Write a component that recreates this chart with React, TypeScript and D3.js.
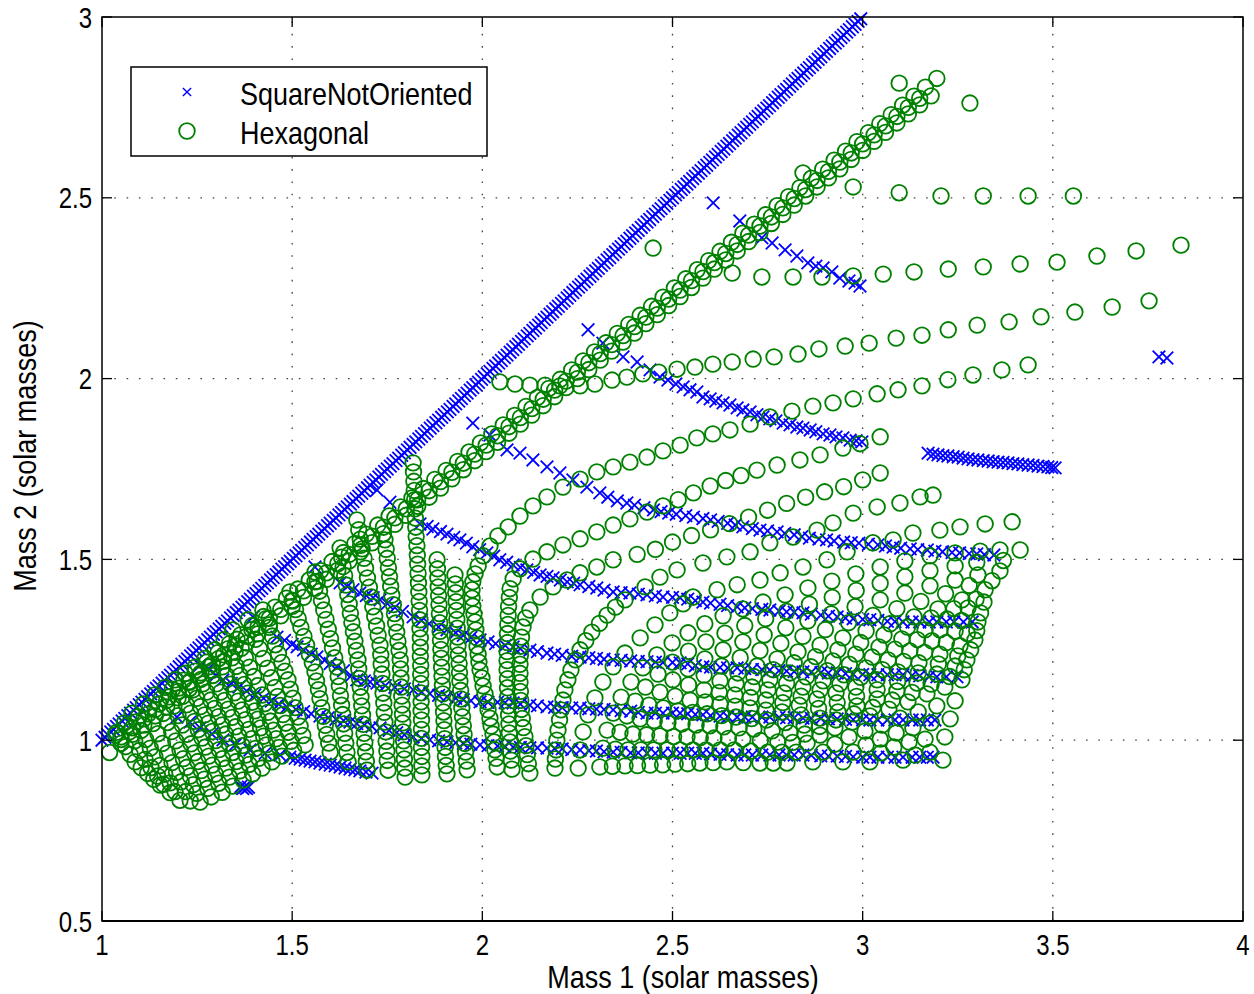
import React from 'react';
import * as d3 from 'd3';

// ---------- axes ----------
const xTicks = [1, 1.5, 2, 2.5, 3, 3.5, 4];
const yTicks = [0.5, 1, 1.5, 2, 2.5, 3];
const xLabel = 'Mass 1 (solar masses)';
const yLabel = 'Mass 2 (solar masses)';
const seriesNames = ['SquareNotOriented', 'Hexagonal'];

// ---------- SquareNotOriented (blue x) ----------
// equal-mass line: m1 = m2
const sqDiagonal = [
  1.000, 1.015, 1.030, 1.045, 1.060, 1.075, 1.090, 1.105, 1.120, 1.135,
  1.150, 1.165, 1.180, 1.195, 1.210, 1.225, 1.240, 1.255, 1.270, 1.285,
  1.300, 1.315, 1.330, 1.345, 1.360, 1.375, 1.390, 1.405, 1.420, 1.435,
  1.450, 1.465, 1.480, 1.495, 1.510, 1.525, 1.540, 1.555, 1.570, 1.585,
  1.600, 1.615, 1.630, 1.645, 1.660, 1.675, 1.690, 1.705, 1.720, 1.735,
  1.750, 1.765, 1.780, 1.795, 1.810, 1.825, 1.840, 1.855, 1.870, 1.885,
  1.900, 1.915, 1.930, 1.945, 1.960, 1.975, 1.990, 2.005, 2.020, 2.035,
  2.050, 2.065, 2.080, 2.095, 2.110, 2.125, 2.140, 2.155, 2.170, 2.185,
  2.200, 2.215, 2.230, 2.245, 2.260, 2.275, 2.290, 2.305, 2.320, 2.335,
  2.350, 2.365, 2.380, 2.395, 2.410, 2.425, 2.440, 2.455, 2.470, 2.485,
  2.500, 2.515, 2.530, 2.545, 2.560, 2.575, 2.590, 2.605, 2.620, 2.635,
  2.650, 2.665, 2.680, 2.695, 2.710, 2.725, 2.740, 2.755, 2.770, 2.785,
  2.800, 2.815, 2.830, 2.845, 2.860, 2.875, 2.890, 2.905, 2.920, 2.935,
  2.950, 2.965, 2.980, 2.995,
];
const sqDiagonalB = [
  1.008, 1.023, 1.038, 1.053, 1.068, 1.083, 1.098, 1.113, 1.128, 1.143,
  1.158, 1.173, 1.188, 1.203, 1.218, 1.233, 1.248, 1.263, 1.278, 1.293,
  1.308, 1.323, 1.338, 1.353, 1.368, 1.383, 1.398, 1.413, 1.428, 1.443,
  1.458, 1.473, 1.488, 1.503, 1.518, 1.533, 1.548, 1.563, 1.578, 1.593,
  1.608, 1.623, 1.638, 1.653, 1.668, 1.683, 1.698, 1.713, 1.728, 1.743,
  1.758, 1.773, 1.788, 1.803, 1.818, 1.833, 1.848, 1.863, 1.878, 1.893,
  1.908, 1.923, 1.938, 1.953, 1.968, 1.983, 1.998, 2.013, 2.028, 2.043,
  2.058, 2.073, 2.088, 2.103, 2.118, 2.133, 2.148, 2.163, 2.178, 2.193,
  2.208, 2.223, 2.238, 2.253, 2.268, 2.283, 2.298, 2.313, 2.328, 2.343,
  2.358, 2.373, 2.388, 2.403, 2.418, 2.433, 2.448, 2.463, 2.478, 2.493,
  2.508, 2.523, 2.538, 2.553, 2.568, 2.583, 2.598, 2.613, 2.628, 2.643,
  2.658, 2.673, 2.688, 2.703, 2.718, 2.733, 2.748, 2.763, 2.778, 2.793,
  2.808, 2.823, 2.838, 2.853, 2.868, 2.883, 2.898, 2.913, 2.928, 2.943,
  2.958, 2.973, 2.988,
];

const sqCurve1 = [[2.607,2.486],[2.677,2.436],[2.735,2.389],[2.762,2.375],[2.796,2.356],[2.827,2.339],[2.856,2.320],[2.877,2.311],[2.896,2.306],[2.919,2.295],[2.940,2.278],[2.964,2.270],[2.980,2.264],[2.993,2.256]];

const sqCurve2 = [[2.278,2.135],[2.317,2.098],[2.370,2.060],[2.407,2.046],[2.441,2.024],[2.467,2.004],[2.488,1.996],[2.509,1.985],[2.528,1.977],[2.546,1.969],[2.564,1.963],[2.580,1.949],[2.599,1.944],[2.614,1.938],[2.633,1.933],[2.651,1.927],[2.670,1.919],[2.685,1.913],[2.704,1.908],[2.722,1.900],[2.738,1.894],[2.756,1.889],[2.772,1.883],[2.791,1.877],[2.809,1.872],[2.827,1.866],[2.843,1.863],[2.862,1.858],[2.877,1.853],[2.896,1.847],[2.914,1.844],[2.930,1.839],[2.948,1.836],[2.967,1.830],[2.983,1.828],[2.998,1.825]];

const sqCurve3 = [[1.975,1.877],[2.020,1.844],[2.065,1.803],[2.099,1.794],[2.133,1.775],[2.170,1.756],[2.204,1.739],[2.238,1.720],[2.275,1.700],[2.309,1.684],[2.33,1.672],[2.355,1.662],[2.38,1.656],[2.40,1.650],[2.425,1.643],[2.45,1.637],[2.47,1.632],[2.49,1.628],[2.51,1.625],[2.535,1.621],[2.555,1.617],[2.58,1.613],[2.60,1.609],[2.62,1.605],[2.645,1.600],[2.665,1.595],[2.685,1.590],[2.71,1.585],[2.73,1.581],[2.75,1.579],[2.775,1.576],[2.795,1.572],[2.82,1.568],[2.84,1.563],[2.86,1.559],[2.885,1.556],[2.905,1.554],[2.925,1.551],[2.95,1.548],[2.97,1.546],[2.99,1.545],[3.015,1.542],[3.04,1.540],[3.06,1.537],[3.08,1.534],[3.10,1.531],[3.125,1.529],[3.145,1.527],[3.17,1.526],[3.19,1.523],[3.21,1.521],[3.235,1.519],[3.255,1.518],[3.28,1.516],[3.30,1.515],[3.32,1.513],[3.345,1.512]];

const sqCurve4 = [[1.757,1.658],[1.836,1.598],[1.855,1.591],[1.870,1.584],[1.890,1.577],[1.907,1.570],[1.925,1.561],[1.941,1.554],[1.958,1.545],[1.975,1.535],[1.993,1.527],[2.012,1.518],[2.03,1.509],[2.046,1.499],[2.064,1.492],[2.081,1.485],[2.10,1.478],[2.117,1.471],[2.135,1.464],[2.152,1.457],[2.17,1.453],[2.186,1.449],[2.205,1.443],[2.223,1.438],[2.24,1.434],[2.257,1.430],[2.28,1.425],[2.301,1.421],[2.32,1.415],[2.344,1.410],[2.365,1.408],[2.388,1.407],[2.41,1.404],[2.433,1.402],[2.455,1.399],[2.475,1.396],[2.50,1.395],[2.52,1.394],[2.54,1.390],[2.56,1.386],[2.58,1.382],[2.60,1.379],[2.625,1.376],[2.645,1.372],[2.67,1.369],[2.69,1.366],[2.71,1.364],[2.735,1.362],[2.756,1.360],[2.78,1.357],[2.80,1.355],[2.82,1.354],[2.843,1.352],[2.865,1.349],[2.89,1.346],[2.91,1.343],[2.933,1.341],[2.955,1.338],[2.975,1.336],[3.00,1.334],[3.019,1.333],[3.04,1.331],[3.065,1.329],[3.085,1.328],[3.106,1.327],[3.13,1.327],[3.15,1.327],[3.175,1.327],[3.195,1.327],[3.22,1.327],[3.24,1.327],[3.265,1.327],[3.288,1.327]];

const sqCurve5 = [[1.560,1.479],[1.626,1.435],[1.645,1.425],[1.660,1.416],[1.678,1.407],[1.695,1.400],[1.713,1.394],[1.731,1.388],[1.75,1.378],[1.77,1.367],[1.79,1.356],[1.818,1.341],[1.84,1.331],[1.86,1.322],[1.885,1.313],[1.907,1.305],[1.93,1.297],[1.95,1.290],[1.97,1.284],[1.994,1.277],[2.015,1.272],[2.035,1.267],[2.06,1.262],[2.081,1.258],[2.10,1.253],[2.125,1.249],[2.145,1.245],[2.17,1.241],[2.19,1.238],[2.21,1.235],[2.235,1.232],[2.257,1.230],[2.28,1.228],[2.30,1.226],[2.32,1.224],[2.344,1.222],[2.365,1.221],[2.39,1.219],[2.41,1.218],[2.433,1.217],[2.455,1.216],[2.475,1.215],[2.50,1.215],[2.52,1.214],[2.54,1.211],[2.56,1.206],[2.58,1.203],[2.60,1.202],[2.625,1.201],[2.645,1.200],[2.67,1.200],[2.69,1.198],[2.71,1.196],[2.735,1.195],[2.756,1.194],[2.78,1.192],[2.80,1.191],[2.82,1.190],[2.843,1.189],[2.865,1.188],[2.89,1.187],[2.91,1.186],[2.933,1.186],[2.955,1.184],[2.975,1.183],[3.00,1.182],[3.019,1.181],[3.04,1.181],[3.065,1.181],[3.085,1.181],[3.106,1.181],[3.13,1.179],[3.15,1.178],[3.175,1.176],[3.195,1.175],[3.22,1.175],[3.248,1.175]];

const sqCurve6 = [[1.397,1.341],[1.460,1.285],[1.48,1.276],[1.50,1.265],[1.513,1.258],[1.53,1.249],[1.55,1.238],[1.565,1.230],[1.585,1.221],[1.60,1.212],[1.618,1.203],[1.635,1.192],[1.655,1.178],[1.670,1.167],[1.69,1.164],[1.705,1.161],[1.723,1.158],[1.745,1.151],[1.77,1.146],[1.795,1.142],[1.818,1.139],[1.84,1.134],[1.862,1.129],[1.885,1.124],[1.907,1.120],[1.93,1.116],[1.95,1.112],[1.97,1.109],[1.994,1.106],[2.015,1.105],[2.04,1.105],[2.06,1.104],[2.081,1.103],[2.10,1.100],[2.125,1.097],[2.145,1.095],[2.17,1.092],[2.19,1.091],[2.21,1.090],[2.235,1.089],[2.257,1.089],[2.28,1.087],[2.30,1.086],[2.32,1.085],[2.344,1.084],[2.365,1.082],[2.39,1.080],[2.41,1.077],[2.433,1.075],[2.455,1.075],[2.475,1.075],[2.50,1.075],[2.52,1.075],[2.54,1.073],[2.56,1.071],[2.58,1.070],[2.60,1.068],[2.625,1.067],[2.645,1.065],[2.67,1.064],[2.69,1.064],[2.71,1.064],[2.735,1.064],[2.756,1.064],[2.78,1.063],[2.80,1.062],[2.82,1.062],[2.843,1.061],[2.865,1.060],[2.89,1.060],[2.91,1.059],[2.933,1.059],[2.955,1.058],[2.975,1.057],[3.00,1.056],[3.019,1.056],[3.04,1.056],[3.065,1.056],[3.085,1.056],[3.106,1.056],[3.13,1.056],[3.15,1.056],[3.17,1.056],[3.19,1.056]];

const sqCurve7 = [[1.258,1.208],[1.28,1.198],[1.30,1.180],[1.318,1.167],[1.34,1.157],[1.36,1.147],[1.38,1.136],[1.402,1.125],[1.425,1.116],[1.445,1.108],[1.465,1.100],[1.486,1.092],[1.51,1.085],[1.53,1.079],[1.55,1.073],[1.573,1.067],[1.595,1.062],[1.615,1.058],[1.635,1.054],[1.652,1.050],[1.67,1.046],[1.69,1.042],[1.71,1.038],[1.731,1.034],[1.755,1.027],[1.775,1.021],[1.795,1.015],[1.818,1.009],[1.84,1.005],[1.862,1.001],[1.885,0.998],[1.907,0.995],[1.93,0.993],[1.95,0.991],[1.97,0.989],[1.994,0.987],[2.015,0.985],[2.04,0.984],[2.06,0.982],[2.081,0.981],[2.10,0.980],[2.125,0.979],[2.145,0.979],[2.17,0.978],[2.19,0.977],[2.21,0.976],[2.235,0.974],[2.257,0.973],[2.28,0.971],[2.30,0.970],[2.32,0.968],[2.344,0.967],[2.365,0.966],[2.39,0.965],[2.41,0.965],[2.433,0.964],[2.455,0.964],[2.475,0.964],[2.50,0.964],[2.52,0.964],[2.54,0.964],[2.56,0.964],[2.58,0.964],[2.60,0.962],[2.625,0.961],[2.645,0.960],[2.67,0.959],[2.69,0.959],[2.71,0.959],[2.735,0.959],[2.756,0.959],[2.78,0.959],[2.80,0.959],[2.82,0.959],[2.843,0.959],[2.865,0.958],[2.89,0.957],[2.91,0.956],[2.933,0.956],[2.955,0.955],[2.975,0.954],[3.00,0.953],[3.019,0.953],[3.04,0.953],[3.065,0.953],[3.085,0.953],[3.106,0.953],[3.13,0.953],[3.15,0.953],[3.17,0.953],[3.185,0.953]];

const sqCurve8 = [[1.197,1.064],[1.231,1.050],[1.258,1.034],[1.289,1.017],[1.318,1.001],[1.350,0.987],[1.389,0.973],[1.429,0.964],[1.468,0.959],[1.494,0.953],[1.508,0.950],[1.521,0.948],[1.534,0.945],[1.547,0.942],[1.560,0.940],[1.573,0.937],[1.587,0.934],[1.600,0.931],[1.613,0.929],[1.626,0.926],[1.639,0.923],[1.652,0.920],[1.665,0.918],[1.678,0.915],[1.694,0.912],[1.710,0.909]];

const sqCluster = [[1.365,0.872],[1.375,0.870],[1.385,0.870],[1.370,0.866],[1.380,0.866]];

const sqCurve10 = [[3.172,1.794],[3.185,1.791],[3.198,1.789],[3.211,1.787],[3.224,1.786],[3.238,1.784],[3.251,1.783],[3.264,1.780],[3.277,1.778],[3.290,1.776],[3.303,1.775],[3.317,1.773],[3.330,1.772],[3.343,1.770],[3.356,1.769],[3.369,1.768],[3.382,1.767],[3.395,1.765],[3.408,1.764],[3.421,1.762],[3.435,1.761],[3.448,1.760],[3.461,1.758],[3.474,1.757],[3.487,1.756],[3.497,1.754],[3.506,1.753]];

const sqPair = [[3.779,2.060],[3.800,2.057]];
const sqLone = [[1.723,1.692]];

// ---------- Hexagonal (green o) ----------
const hexDiagLower = [[1.02,0.966],[1.05,0.991],[1.08,1.016],[1.11,1.042],[1.14,1.067],[1.17,1.092],[1.20,1.117],[1.23,1.143],[1.26,1.168],[1.29,1.193],[1.32,1.218],[1.35,1.243],[1.38,1.269],[1.41,1.294],[1.44,1.319],[1.47,1.344],[1.50,1.370],[1.53,1.395],[1.56,1.420],[1.59,1.445],[1.62,1.470],[1.65,1.496],[1.68,1.521],[1.71,1.546],[1.74,1.571],[1.77,1.597],[1.80,1.622],[1.83,1.647],[1.86,1.672],[1.89,1.697],[1.92,1.723],[1.95,1.748],[1.98,1.773],[2.01,1.798],[2.04,1.824],[2.07,1.849],[2.10,1.874],[2.13,1.899],[2.16,1.925],[2.19,1.950],[2.22,1.975],[2.25,2.000],[2.28,2.025],[2.31,2.051],[2.34,2.076],[2.37,2.101],[2.40,2.126],[2.43,2.152],[2.46,2.177],[2.49,2.202],[2.52,2.227],[2.55,2.252],[2.58,2.278],[2.61,2.303],[2.64,2.328],[2.67,2.353],[2.70,2.379],[2.73,2.404],[2.76,2.429],[2.79,2.454],[2.82,2.480],[2.85,2.505],[2.88,2.530],[2.91,2.555],[2.94,2.580],[2.97,2.606],[3.00,2.631],[3.03,2.656],[3.06,2.681],[3.09,2.707],[3.12,2.732],[3.15,2.757],[3.18,2.782]];

const hexDiagMid = [[1.05,1.009],[1.08,1.034],[1.11,1.059],[1.14,1.085],[1.17,1.110],[1.20,1.135],[1.23,1.160],[1.26,1.186],[1.29,1.211],[1.32,1.236],[1.35,1.261],[1.38,1.287],[1.41,1.312],[1.44,1.337],[1.47,1.362],[1.50,1.387],[1.53,1.413],[1.56,1.438],[1.59,1.463],[1.62,1.488],[1.65,1.514],[1.68,1.539],[1.71,1.564],[1.74,1.589],[1.77,1.615],[1.80,1.640],[1.83,1.665],[1.86,1.690],[1.89,1.715],[1.92,1.741],[1.95,1.766],[1.98,1.791],[2.01,1.816],[2.04,1.842],[2.07,1.867],[2.10,1.892],[2.13,1.917],[2.16,1.943],[2.19,1.968],[2.22,1.993],[2.25,2.018],[2.28,2.044],[2.31,2.069],[2.34,2.094],[2.37,2.119],[2.40,2.144],[2.43,2.170],[2.46,2.195],[2.49,2.220],[2.52,2.245],[2.55,2.271],[2.58,2.296],[2.61,2.321],[2.64,2.346],[2.67,2.371],[2.70,2.397],[2.73,2.422],[2.76,2.447],[2.79,2.472],[2.82,2.498],[2.85,2.523],[2.88,2.548],[2.91,2.573],[2.94,2.599],[2.97,2.624],[3.00,2.649],[3.03,2.674],[3.06,2.699],[3.09,2.725],[3.12,2.750],[3.15,2.775]];

const hexDiagUpper = [[1.035,1.015],[1.065,1.040],[1.095,1.065],[1.125,1.090],[1.155,1.115],[1.185,1.141],[1.215,1.166],[1.245,1.191],[1.275,1.216],[1.305,1.242],[1.335,1.267],[1.365,1.292],[1.395,1.317],[1.425,1.342],[1.455,1.368],[1.485,1.393],[1.515,1.418],[1.545,1.443],[1.575,1.469],[1.605,1.494],[1.635,1.519],[1.665,1.544],[1.695,1.570],[1.725,1.595],[1.755,1.620],[1.785,1.645],[1.815,1.670],[1.845,1.696],[1.875,1.721],[1.905,1.746],[1.935,1.771],[1.965,1.797],[1.995,1.822],[2.025,1.847],[2.055,1.872],[2.085,1.898],[2.115,1.923],[2.145,1.948],[2.175,1.973],[2.205,1.998],[2.235,2.024],[2.265,2.049],[2.295,2.074],[2.325,2.099],[2.355,2.125],[2.385,2.150],[2.415,2.175],[2.445,2.200],[2.475,2.225],[2.505,2.251],[2.535,2.276],[2.565,2.301],[2.595,2.326],[2.625,2.352],[2.655,2.377],[2.685,2.402],[2.715,2.427],[2.745,2.453],[2.775,2.478],[2.805,2.503],[2.835,2.528],[2.865,2.554],[2.895,2.579],[2.925,2.604],[2.955,2.629],[2.985,2.655],[3.015,2.680],[3.045,2.705],[3.075,2.730],[3.105,2.756],[3.135,2.781],[3.165,2.806],[3.195,2.830]];

const hexLone = [[3.096,2.817],[3.282,2.762],[2.449,2.361]];

const hexRow1 = [[2.843,2.569],[2.975,2.530],[3.096,2.514],[3.206,2.505],[3.317,2.505],[3.435,2.505],[3.554,2.505]];

const hexRow2 = [[2.657,2.292],[2.735,2.281],[2.817,2.281],[2.893,2.281],[2.975,2.284],[3.054,2.289],[3.135,2.295],[3.225,2.303],[3.317,2.309],[3.414,2.317],[3.511,2.322],[3.616,2.339],[3.719,2.353],[3.837,2.369]];

const hexRow3 = [[2.046,1.991],[2.086,1.985],[2.125,1.982],[2.165,1.982],[2.204,1.980],[2.257,1.980],[2.296,1.985],[2.341,1.996],[2.380,2.004],[2.422,2.013],[2.464,2.018],[2.512,2.026],[2.559,2.032],[2.606,2.040],[2.657,2.046],[2.712,2.054],[2.767,2.060],[2.830,2.068],[2.885,2.082],[2.954,2.090],[3.017,2.098],[3.088,2.112],[3.156,2.120],[3.225,2.135],[3.301,2.148],[3.385,2.157],[3.469,2.171],[3.558,2.184],[3.656,2.198],[3.753,2.215]];

const hexRow4 = [[2.039,0.926],[2.036,0.950],[2.033,0.973],[2.031,0.995],[2.028,1.017],[2.023,1.039],[2.020,1.061],[2.015,1.084],[2.012,1.106],[2.007,1.128],[2.002,1.150],[1.999,1.172],[1.994,1.194],[1.991,1.216],[1.989,1.238],[1.986,1.260],[1.986,1.283],[1.983,1.305],[1.981,1.327],[1.978,1.349],[1.975,1.371],[1.973,1.393],[1.973,1.416],[1.975,1.438],[1.981,1.460],[1.989,1.482],[2.002,1.510],[2.020,1.537],[2.041,1.565],[2.068,1.590],[2.099,1.620],[2.133,1.648],[2.170,1.673],[2.212,1.700],[2.257,1.722],[2.301,1.742],[2.344,1.756],[2.388,1.769],[2.433,1.783],[2.475,1.800],[2.520,1.816],[2.564,1.836],[2.606,1.847],[2.651,1.858],[2.704,1.874],[2.756,1.894],[2.814,1.910],[2.869,1.924],[2.922,1.933],[2.975,1.944],[3.038,1.958],[3.093,1.969],[3.156,1.980],[3.224,1.997],[3.290,2.010],[3.366,2.024],[3.435,2.038]];

const hexRow5 = [[2.078,0.920],[2.076,0.945],[2.074,0.970],[2.073,0.995],[2.071,1.020],[2.070,1.045],[2.069,1.070],[2.068,1.095],[2.067,1.120],[2.066,1.145],[2.066,1.170],[2.065,1.195],[2.065,1.220],[2.065,1.245],[2.066,1.270],[2.066,1.295],[2.067,1.320],[2.068,1.345],[2.069,1.370],[2.071,1.395],[2.073,1.419],[2.081,1.446],[2.099,1.474],[2.133,1.501],[2.170,1.521],[2.212,1.540],[2.257,1.557],[2.301,1.576],[2.344,1.595],[2.388,1.612],[2.433,1.631],[2.475,1.648],[2.515,1.665],[2.555,1.684],[2.599,1.703],[2.640,1.718],[2.680,1.732],[2.722,1.747],[2.775,1.761],[2.835,1.775],[2.888,1.789],[2.948,1.808],[2.993,1.820],[3.046,1.839]];

const hexRow6 = [[2.125,0.909],[2.121,0.935],[2.118,0.960],[2.115,0.985],[2.112,1.010],[2.108,1.035],[2.105,1.060],[2.103,1.085],[2.101,1.110],[2.100,1.135],[2.099,1.160],[2.099,1.185],[2.099,1.210],[2.100,1.235],[2.101,1.260],[2.103,1.285],[2.107,1.313],[2.114,1.338],[2.125,1.360],[2.152,1.396],[2.186,1.424],[2.223,1.443],[2.257,1.463],[2.301,1.479],[2.344,1.499],[2.407,1.514],[2.455,1.528],[2.500,1.548],[2.550,1.566],[2.600,1.582],[2.650,1.599],[2.700,1.617],[2.750,1.636],[2.800,1.655],[2.850,1.672],[2.900,1.687],[2.950,1.701],[3.000,1.720],[3.046,1.739]];

const hexRow7 = [[2.191,0.923],[2.192,0.948],[2.194,0.973],[2.196,1.000],[2.199,1.028],[2.203,1.056],[2.207,1.084],[2.212,1.111],[2.217,1.139],[2.225,1.167],[2.233,1.194],[2.245,1.222],[2.257,1.250],[2.272,1.275],[2.288,1.299],[2.308,1.323],[2.328,1.346],[2.350,1.368],[2.375,1.388],[2.428,1.424],[2.467,1.451],[2.512,1.471],[2.580,1.490],[2.643,1.507],[2.704,1.521],[2.756,1.546],[2.817,1.562],[2.880,1.581],[2.922,1.601],[2.975,1.628],[3.038,1.645],[3.098,1.656],[3.151,1.673],[3.185,1.678]];

const hexRow8 = [[2.252,0.923],[2.257,0.973],[2.265,1.023],[2.278,1.070],[2.296,1.117],[2.317,1.161],[2.344,1.203],[2.375,1.241],[2.415,1.283],[2.454,1.319],[2.493,1.352],[2.528,1.377],[2.554,1.396],[2.617,1.416],[2.670,1.430],[2.730,1.443],[2.783,1.463],[2.843,1.479],[2.906,1.499],[2.959,1.521],[3.027,1.546],[3.080,1.554],[3.132,1.573],[3.203,1.581],[3.256,1.590],[3.322,1.598],[3.393,1.604]];

const hexRow9 = [[2.309,0.926],[2.317,0.978],[2.328,1.028],[2.344,1.075],[2.365,1.119],[2.391,1.161],[2.422,1.200],[2.459,1.236],[2.499,1.269],[2.541,1.297],[2.585,1.322],[2.633,1.344],[2.685,1.363],[2.738,1.382],[2.796,1.402],[2.856,1.421],[2.919,1.440],[2.982,1.460],[3.046,1.479],[3.111,1.496],[3.177,1.510],[3.243,1.518],[3.309,1.523],[3.361,1.526],[3.414,1.526]];

const hexRow9b = [[2.342,0.928],[2.350,0.975],[2.362,1.022],[2.380,1.067],[2.402,1.108],[2.429,1.147],[2.462,1.183],[2.500,1.216],[2.542,1.246],[2.588,1.272],[2.638,1.296],[2.690,1.317],[2.745,1.336],[2.800,1.356],[2.860,1.376],[2.920,1.395],[2.983,1.414],[3.046,1.434],[3.111,1.452],[3.177,1.469],[3.243,1.482],[3.300,1.492],[3.370,1.497]];

const hexRow10 = [[2.375,0.929],[2.383,0.973],[2.396,1.017],[2.415,1.059],[2.438,1.097],[2.467,1.133],[2.501,1.167],[2.541,1.197],[2.585,1.225],[2.633,1.250],[2.685,1.272],[2.741,1.291],[2.798,1.311],[2.856,1.330],[2.917,1.349],[2.980,1.369],[3.046,1.388],[3.111,1.407],[3.177,1.427],[3.243,1.443],[3.303,1.457],[3.361,1.468]];

const hexRow10b = [[2.408,0.930],[2.417,0.973],[2.432,1.015],[2.452,1.054],[2.476,1.089],[2.507,1.122],[2.542,1.153],[2.583,1.180],[2.629,1.205],[2.678,1.228],[2.730,1.248],[2.785,1.268],[2.843,1.287],[2.902,1.306],[2.963,1.325],[3.027,1.345],[3.090,1.364],[3.153,1.384],[3.218,1.405],[3.280,1.428],[3.340,1.441]];

const hexRow11 = [[2.441,0.931],[2.451,0.973],[2.467,1.012],[2.488,1.048],[2.514,1.081],[2.546,1.111],[2.583,1.139],[2.625,1.164],[2.672,1.186],[2.722,1.205],[2.775,1.225],[2.830,1.244],[2.888,1.263],[2.948,1.283],[3.009,1.302],[3.072,1.322],[3.135,1.341],[3.198,1.363],[3.261,1.388],[3.322,1.416]];

const hexRow11b = [[2.474,0.932],[2.486,0.973],[2.503,1.010],[2.525,1.045],[2.553,1.077],[2.586,1.106],[2.623,1.132],[2.667,1.156],[2.714,1.176],[2.765,1.195],[2.820,1.214],[2.876,1.231],[2.935,1.250],[2.995,1.270],[3.056,1.291],[3.118,1.313],[3.180,1.338],[3.240,1.364],[3.298,1.390]];

const hexRow12 = [[2.507,0.934],[2.520,0.973],[2.538,1.009],[2.562,1.042],[2.591,1.073],[2.625,1.100],[2.664,1.125],[2.709,1.147],[2.756,1.167],[2.809,1.186],[2.864,1.203],[2.922,1.219],[2.982,1.238],[3.043,1.258],[3.103,1.280],[3.164,1.305],[3.222,1.335],[3.277,1.366],[3.319,1.382]];

const hexRow12b = [[2.540,0.935],[2.554,0.973],[2.573,1.007],[2.598,1.040],[2.629,1.068],[2.665,1.094],[2.705,1.118],[2.751,1.139],[2.800,1.157],[2.852,1.175],[2.907,1.192],[2.965,1.210],[3.025,1.230],[3.085,1.252],[3.144,1.278],[3.203,1.305],[3.260,1.331],[3.310,1.352]];

const hexRow13 = [[2.572,0.937],[2.588,0.973],[2.609,1.006],[2.635,1.037],[2.667,1.064],[2.704,1.089],[2.746,1.111],[2.793,1.131],[2.843,1.147],[2.896,1.164],[2.951,1.181],[3.009,1.200],[3.067,1.222],[3.124,1.247],[3.182,1.275],[3.243,1.302],[3.303,1.327]];

const hexRow13b = [[2.607,0.938],[2.625,0.973],[2.647,1.005],[2.675,1.034],[2.708,1.060],[2.746,1.083],[2.790,1.104],[2.838,1.122],[2.888,1.139],[2.940,1.156],[2.995,1.174],[3.052,1.195],[3.108,1.218],[3.163,1.243],[3.220,1.270],[3.275,1.295],[3.300,1.303]];

const hexRow14 = [[2.643,0.940],[2.662,0.973],[2.685,1.003],[2.714,1.031],[2.748,1.056],[2.788,1.078],[2.833,1.097],[2.880,1.114],[2.930,1.131],[2.982,1.147],[3.038,1.167],[3.093,1.189],[3.148,1.214],[3.203,1.238],[3.256,1.261],[3.295,1.277]];

const hexRow14b = [[2.686,0.938],[2.706,0.970],[2.731,0.999],[2.762,1.026],[2.797,1.049],[2.838,1.070],[2.884,1.088],[2.933,1.104],[2.984,1.121],[3.038,1.140],[3.092,1.162],[3.146,1.186],[3.199,1.211],[3.250,1.233],[3.284,1.250]];

const hexRow15 = [[2.730,0.937],[2.751,0.967],[2.777,0.995],[2.809,1.020],[2.846,1.042],[2.888,1.061],[2.935,1.078],[2.985,1.095],[3.038,1.114],[3.090,1.136],[3.143,1.158],[3.195,1.183],[3.243,1.205],[3.274,1.222]];

const hexRow15b = [[2.765,0.937],[2.788,0.967],[2.816,0.994],[2.848,1.017],[2.887,1.038],[2.930,1.056],[2.977,1.073],[3.027,1.091],[3.078,1.111],[3.130,1.132],[3.180,1.155],[3.229,1.176],[3.267,1.195]];

const hexRow16 = [[2.801,0.937],[2.825,0.967],[2.854,0.992],[2.888,1.014],[2.927,1.034],[2.972,1.050],[3.019,1.067],[3.069,1.086],[3.119,1.106],[3.169,1.128],[3.216,1.147],[3.261,1.167]];

const hexRow17 = [[2.869,0.940],[2.896,0.967],[2.927,0.989],[2.964,1.009],[3.006,1.025],[3.051,1.042],[3.098,1.061],[3.146,1.078],[3.195,1.095],[3.243,1.109]];

const hexRow18 = [[2.948,0.940],[2.975,0.967],[3.009,0.987],[3.046,1.003],[3.088,1.020],[3.132,1.034],[3.180,1.048],[3.230,1.059]];

const hexRow19 = [[3.019,0.940],[3.048,0.965],[3.082,0.981],[3.122,0.995],[3.164,1.003],[3.216,1.009]];

const hexRow20 = [[3.106,0.945],[3.138,0.959],[3.177,0.967],[3.211,0.945]];

const hexArc1 = [[1.039,1.022],[1.050,1.002],[1.062,0.982],[1.074,0.961],[1.087,0.940],[1.103,0.924],[1.120,0.908],[1.136,0.892],[1.153,0.876]];
const hexArc1b = [[1.059,1.048],[1.072,1.023],[1.086,0.998],[1.099,0.972],[1.113,0.947],[1.129,0.924],[1.146,0.901],[1.162,0.878],[1.179,0.855]];
const hexArc2 = [[1.079,1.075],[1.091,1.051],[1.103,1.027],[1.115,1.002],[1.127,0.978],[1.139,0.954],[1.152,0.930],[1.165,0.906],[1.179,0.882],[1.192,0.858],[1.205,0.834]];
const hexArc2b = [[1.109,1.100],[1.122,1.073],[1.134,1.046],[1.147,1.018],[1.159,0.991],[1.172,0.964],[1.184,0.938],[1.196,0.911],[1.208,0.885],[1.220,0.858],[1.232,0.832]];
const hexArc3 = [[1.139,1.125],[1.150,1.100],[1.161,1.074],[1.172,1.049],[1.183,1.024],[1.194,0.998],[1.205,0.973],[1.214,0.949],[1.223,0.925],[1.232,0.901],[1.240,0.877],[1.249,0.853],[1.258,0.829]];
const hexArc3b = [[1.166,1.146],[1.177,1.120],[1.189,1.094],[1.200,1.068],[1.211,1.042],[1.223,1.016],[1.234,0.990],[1.243,0.965],[1.252,0.941],[1.261,0.916],[1.269,0.892],[1.278,0.867],[1.287,0.843]];
const hexArc4 = [[1.192,1.167],[1.202,1.144],[1.212,1.121],[1.222,1.098],[1.233,1.075],[1.243,1.052],[1.253,1.029],[1.263,1.006],[1.272,0.981],[1.281,0.956],[1.290,0.931],[1.298,0.906],[1.307,0.881],[1.316,0.856]];
const hexArc4b = [[1.219,1.185],[1.229,1.162],[1.239,1.139],[1.249,1.116],[1.259,1.093],[1.270,1.070],[1.280,1.047],[1.290,1.024],[1.299,0.999],[1.308,0.974],[1.317,0.949],[1.326,0.923],[1.335,0.898],[1.344,0.873]];
const hexArc5 = [[1.245,1.202],[1.255,1.179],[1.265,1.156],[1.275,1.133],[1.286,1.111],[1.296,1.088],[1.306,1.065],[1.316,1.042],[1.325,1.017],[1.334,0.991],[1.344,0.966],[1.353,0.941],[1.362,0.915],[1.371,0.890]];
const hexArc5b = [[1.271,1.226],[1.281,1.203],[1.291,1.179],[1.301,1.156],[1.312,1.133],[1.322,1.110],[1.332,1.086],[1.342,1.063],[1.351,1.037],[1.360,1.011],[1.369,0.985],[1.378,0.959],[1.387,0.933],[1.396,0.907]];
const hexArc6 = [[1.297,1.250],[1.307,1.226],[1.317,1.203],[1.327,1.179],[1.338,1.155],[1.348,1.131],[1.358,1.108],[1.368,1.084],[1.377,1.057],[1.386,1.030],[1.394,1.004],[1.403,0.977],[1.412,0.950],[1.421,0.923]];
const hexArc6b = [[1.321,1.278],[1.332,1.253],[1.342,1.228],[1.353,1.204],[1.363,1.179],[1.374,1.154],[1.384,1.130],[1.395,1.105],[1.402,1.081],[1.410,1.058],[1.417,1.034],[1.425,1.011],[1.432,0.987],[1.440,0.964],[1.447,0.940]];
const hexArc7 = [[1.344,1.305],[1.355,1.279],[1.366,1.254],[1.377,1.228],[1.388,1.202],[1.399,1.176],[1.410,1.151],[1.421,1.125],[1.428,1.101],[1.436,1.077],[1.443,1.053],[1.451,1.028],[1.458,1.004],[1.466,0.980],[1.473,0.956]];
const hexArc7b = [[1.384,1.333],[1.394,1.306],[1.404,1.279],[1.414,1.253],[1.424,1.226],[1.435,1.199],[1.445,1.173],[1.455,1.146],[1.462,1.121],[1.469,1.096],[1.476,1.071],[1.483,1.047],[1.490,1.022],[1.497,0.997],[1.504,0.972]];
const hexArc8 = [[1.423,1.360],[1.431,1.336],[1.440,1.312],[1.448,1.288],[1.456,1.264],[1.464,1.239],[1.473,1.215],[1.481,1.191],[1.489,1.167],[1.495,1.141],[1.502,1.116],[1.508,1.090],[1.515,1.064],[1.521,1.039],[1.528,1.013],[1.534,0.987]];
const hexArc9 = [[1.494,1.410],[1.501,1.385],[1.509,1.361],[1.516,1.336],[1.523,1.312],[1.531,1.287],[1.538,1.263],[1.545,1.238],[1.553,1.214],[1.560,1.189],[1.564,1.164],[1.569,1.140],[1.573,1.115],[1.578,1.090],[1.582,1.066],[1.587,1.041],[1.591,1.016],[1.596,0.992],[1.600,0.967]];
const hexArc10 = [[1.560,1.465],[1.566,1.439],[1.572,1.412],[1.577,1.386],[1.583,1.360],[1.589,1.334],[1.595,1.307],[1.601,1.281],[1.606,1.255],[1.612,1.228],[1.618,1.202],[1.621,1.176],[1.624,1.150],[1.627,1.123],[1.630,1.097],[1.633,1.071],[1.635,1.045],[1.638,1.019],[1.641,0.992],[1.644,0.966],[1.647,0.940]];
const hexArc11 = [[1.626,1.532],[1.630,1.506],[1.634,1.480],[1.638,1.455],[1.642,1.429],[1.646,1.403],[1.650,1.377],[1.653,1.351],[1.657,1.325],[1.661,1.300],[1.665,1.274],[1.669,1.248],[1.673,1.222],[1.675,1.197],[1.677,1.171],[1.679,1.146],[1.681,1.120],[1.683,1.095],[1.685,1.070],[1.687,1.044],[1.689,1.019],[1.691,0.993],[1.693,0.968],[1.695,0.942],[1.697,0.917]];
const hexArc12 = [[1.670,1.609],[1.675,1.582],[1.679,1.556],[1.684,1.529],[1.689,1.503],[1.693,1.476],[1.698,1.449],[1.703,1.423],[1.708,1.396],[1.712,1.369],[1.717,1.343],[1.722,1.316],[1.726,1.290],[1.731,1.263],[1.733,1.236],[1.734,1.210],[1.736,1.183],[1.738,1.157],[1.739,1.130],[1.741,1.103],[1.742,1.077],[1.744,1.050],[1.746,1.023],[1.747,0.997],[1.749,0.970],[1.750,0.944],[1.752,0.917]];
const hexArc13 = [[1.744,1.554],[1.747,1.528],[1.750,1.503],[1.753,1.477],[1.756,1.452],[1.759,1.426],[1.762,1.401],[1.766,1.375],[1.769,1.350],[1.772,1.324],[1.775,1.299],[1.778,1.273],[1.781,1.248],[1.784,1.222],[1.785,1.197],[1.786,1.172],[1.787,1.147],[1.788,1.122],[1.789,1.097],[1.790,1.072],[1.791,1.048],[1.792,1.023],[1.793,0.998],[1.794,0.973],[1.795,0.948],[1.796,0.923],[1.797,0.898]];
const hexArc14 = [[1.818,1.767],[1.819,1.742],[1.820,1.716],[1.821,1.691],[1.822,1.665],[1.823,1.640],[1.824,1.614],[1.825,1.589],[1.826,1.563],[1.828,1.538],[1.829,1.512],[1.830,1.487],[1.831,1.461],[1.832,1.435],[1.833,1.410],[1.834,1.384],[1.835,1.359],[1.836,1.333],[1.836,1.308],[1.837,1.283],[1.837,1.257],[1.837,1.232],[1.838,1.207],[1.838,1.182],[1.838,1.157],[1.839,1.131],[1.839,1.106],[1.839,1.081],[1.840,1.056],[1.840,1.030],[1.840,1.005],[1.840,0.980],[1.841,0.955],[1.841,0.929],[1.841,0.904]];
const hexArc15 = [[1.881,1.499],[1.882,1.474],[1.883,1.449],[1.884,1.424],[1.885,1.400],[1.886,1.375],[1.887,1.350],[1.888,1.325],[1.889,1.301],[1.890,1.276],[1.891,1.251],[1.892,1.227],[1.893,1.202],[1.894,1.177],[1.895,1.152],[1.896,1.128],[1.897,1.103],[1.898,1.078],[1.899,1.054],[1.900,1.029],[1.901,1.004],[1.902,0.980],[1.903,0.955],[1.905,0.930],[1.907,0.907]];
const hexArc16 = [[1.928,1.457],[1.929,1.432],[1.930,1.408],[1.931,1.383],[1.932,1.359],[1.933,1.334],[1.934,1.310],[1.935,1.285],[1.936,1.261],[1.937,1.236],[1.939,1.212],[1.940,1.187],[1.941,1.163],[1.943,1.138],[1.944,1.114],[1.946,1.089],[1.948,1.065],[1.950,1.040],[1.952,1.016],[1.954,0.991],[1.956,0.967],[1.958,0.942],[1.960,0.918]];

const BLUE = '#0000ff';
const GREEN = '#008000';
const FONT = '"Liberation Sans", Arial, Helvetica, sans-serif';
const crossPath = 'M-6.3,-6.3L6.3,6.3M-6.3,6.3L6.3,-6.3';

export default function App() {
  const W = 1254, H = 994;
  const left = 102, right = 1243, top = 17, bottom = 921;
  const x = d3.scaleLinear().domain([1, 4]).range([left, right]);
  const y = d3.scaleLinear().domain([0.5, 3]).range([bottom, top]);

  const bluePts: number[][] = [
    ...sqDiagonal.map((v) => [v, v]),
    ...sqDiagonalB.map((v) => [v, v]),
    ...sqCurve1, ...sqCurve2, ...sqCurve3, ...sqCurve4, ...sqCurve5,
    ...sqCurve6, ...sqCurve7, ...sqCurve8, ...sqCluster, ...sqCurve10,
    ...sqPair, ...sqLone,
  ];
  const greenPts: number[][] = [
    ...hexDiagLower, ...hexDiagMid, ...hexDiagUpper, ...hexLone,
    ...hexRow1, ...hexRow2, ...hexRow3, ...hexRow4, ...hexRow5, ...hexRow6,
    ...hexRow7, ...hexRow8, ...hexRow9, ...hexRow9b, ...hexRow10, ...hexRow10b,
    ...hexRow11, ...hexRow11b, ...hexRow12, ...hexRow12b,
    ...hexRow13, ...hexRow13b, ...hexRow14, ...hexRow14b, ...hexRow15, ...hexRow15b,
    ...hexRow16, ...hexRow17, ...hexRow18, ...hexRow19, ...hexRow20,
    ...hexArc1, ...hexArc1b, ...hexArc2, ...hexArc2b, ...hexArc3, ...hexArc3b,
    ...hexArc4, ...hexArc4b, ...hexArc5, ...hexArc5b, ...hexArc6, ...hexArc6b,
    ...hexArc7, ...hexArc7b, ...hexArc8, ...hexArc9, ...hexArc10, ...hexArc11, ...hexArc12,
    ...hexArc13, ...hexArc14, ...hexArc15, ...hexArc16,
  ];

  const fmt = (v: number) => String(v);
  const tickLen = 10;

  return (
    <svg width={W} height={H} style={{ position: 'absolute', left: 0, top: 0, background: '#fff' }}
      xmlns="http://www.w3.org/2000/svg">
      <rect x={0} y={0} width={W} height={H} fill="#fff" />
      {/* grid */}
      <g stroke="#444" strokeWidth={1.3} strokeDasharray="1.6,10.7" fill="none">
        {xTicks.slice(1, -1).map((t) => (
          <line key={'gx' + t} x1={x(t)} x2={x(t)} y1={bottom} y2={top} />
        ))}
        {yTicks.slice(1, -1).map((t) => (
          <line key={'gy' + t} x1={left} x2={right} y1={y(t)} y2={y(t)} />
        ))}
      </g>
      {/* markers */}
      <g stroke={BLUE} strokeWidth={1.8} fill="none">
        {bluePts.map((p, i) => (
          <path key={'b' + i} d={crossPath} transform={`translate(${x(p[0])},${y(p[1])})`} />
        ))}
      </g>
      <g stroke={GREEN} strokeWidth={1.8} fill="none">
        {greenPts.map((p, i) => (
          <circle key={'g' + i} cx={x(p[0])} cy={y(p[1])} r={7.8} />
        ))}
      </g>
      {/* box + ticks */}
      <rect x={left} y={top} width={right - left} height={bottom - top} fill="none" stroke="#000" strokeWidth={1.5} />
      <g stroke="#000" strokeWidth={1.3}>
        {xTicks.map((t) => (
          <g key={'tx' + t}>
            <line x1={x(t)} x2={x(t)} y1={bottom} y2={bottom - tickLen} />
            <line x1={x(t)} x2={x(t)} y1={top} y2={top + tickLen} />
          </g>
        ))}
        {yTicks.map((t) => (
          <g key={'ty' + t}>
            <line x1={left} x2={left + tickLen} y1={y(t)} y2={y(t)} />
            <line x1={right} x2={right - tickLen} y1={y(t)} y2={y(t)} />
          </g>
        ))}
      </g>
      <line x1={left} x2={right} y1={bottom} y2={bottom} stroke="#000" strokeWidth={2} />
      {/* tick labels */}
      <g fontFamily={FONT} fontSize={24} fill="#000">
        {xTicks.map((t) => (
          <text key={'lx' + t} textAnchor="middle" transform={`translate(${x(t)},955) scale(1,1.25)`}>{fmt(t)}</text>
        ))}
        {yTicks.map((t) => (
          <text key={'ly' + t} textAnchor="end" transform={`translate(92,${y(t) + 10.5}) scale(1,1.25)`}>{fmt(t)}</text>
        ))}
      </g>
      {/* axis labels */}
      <text fontFamily={FONT} fontSize={27} textAnchor="middle" transform="translate(683,988) scale(1,1.18)">{xLabel}</text>
      <text fontFamily={FONT} fontSize={27} textAnchor="middle" transform="translate(36,456) rotate(-90) scale(1,1.18)">{yLabel}</text>
      {/* legend */}
      <g>
        <rect x={131} y={67} width={356} height={89} fill="#fff" stroke="#000" strokeWidth={1.5} />
        <path d={crossPath} transform="translate(187,92) scale(0.65)" stroke={BLUE} strokeWidth={2.2} fill="none" />
        <circle cx={187} cy={131} r={7.8} stroke={GREEN} strokeWidth={1.8} fill="none" />
        <text fontFamily={FONT} fontSize={27} transform="translate(240,105) scale(1,1.15)">{seriesNames[0]}</text>
        <text fontFamily={FONT} fontSize={27} transform="translate(240,144) scale(1,1.15)">{seriesNames[1]}</text>
      </g>
    </svg>
  );
}
